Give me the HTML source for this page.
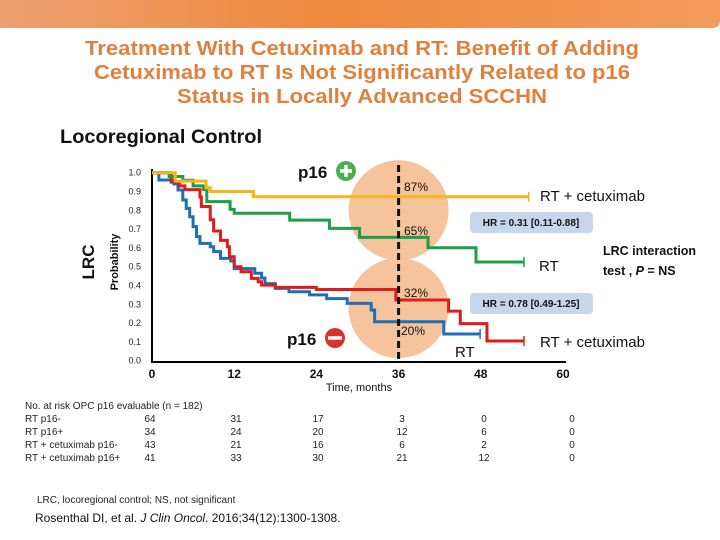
<!DOCTYPE html>
<html><head><meta charset="utf-8"><style>
html,body{margin:0;padding:0;background:#fff}
svg{display:block;font-family:"Liberation Sans",sans-serif}
</style></head><body>
<svg id="chart" width="720" height="540" viewBox="0 0 720 540">
<defs><linearGradient id="bg" x1="0" x2="1"><stop offset="0" stop-color="#eda070"/><stop offset="0.45" stop-color="#ef8a3e"/><stop offset="1" stop-color="#f39a5c"/></linearGradient></defs>
<path d="M0 0H720V20Q720 28 712 28H0Z" fill="url(#bg)"/>
<g fill="#e0803c" font-weight="bold" font-size="20" text-anchor="middle">
<text x="362" y="55" textLength="554" lengthAdjust="spacingAndGlyphs">Treatment With Cetuximab and RT: Benefit of Adding</text>
<text x="362" y="79" textLength="536" lengthAdjust="spacingAndGlyphs">Cetuximab to RT Is Not Significantly Related to p16</text>
<text x="362" y="103" textLength="370" lengthAdjust="spacingAndGlyphs">Status in Locally Advanced SCCHN</text>
</g>
<text x="60" y="143" font-size="19" font-weight="bold" fill="#111" textLength="202" lengthAdjust="spacingAndGlyphs">Locoregional Control</text>
<g id="plot"></g>
<g id="risk" font-size="10" fill="#222"></g>
<text x="37" y="503" font-size="10" fill="#222">LRC, locoregional control; NS, not significant</text>
<text x="35" y="522" font-size="12" fill="#111">Rosenthal DI, et al. <tspan font-style="italic">J Clin Oncol</tspan>. 2016;34(12):1300-1308.</text>
</svg>
<script>
const xTicks=[0,12,24,36,48,60];
const yTicks=[0,0.1,0.2,0.3,0.4,0.5,0.6,0.7,0.8,0.9,1.0];
const yellowT=[0,3.4,7.9,8.5,14.8,55];
const yellowV=[1.0,0.955,0.92,0.9,0.872,0.872];
const greenT=[0,2.5,4.5,6,7.5,8,11.4,12,20.1,25.9,30.3,40.3,47.3,54.3];
const greenV=[1.0,0.98,0.96,0.93,0.91,0.846,0.805,0.784,0.748,0.704,0.656,0.601,0.525,0.525];
const redT=[0,2.8,4,4.8,7,7.2,8.5,9,10,11,11.3,12,13,14.5,15.5,16,18,24,35.6,43.3,45,48.9,54.3];
const redV=[1.0,0.95,0.93,0.91,0.87,0.82,0.75,0.69,0.64,0.606,0.553,0.5,0.473,0.438,0.42,0.402,0.39,0.379,0.323,0.264,0.197,0.105,0.105];
const blueT=[0,1,3.2,3.8,4.5,5,5.5,6,6.5,7,8.5,9,10,11.5,12,15,16,16.5,18,20,23,25.5,28.5,32,32.5,42.6,47.9];
const blueV=[1.0,0.961,0.94,0.908,0.855,0.81,0.766,0.713,0.66,0.624,0.606,0.58,0.544,0.53,0.49,0.465,0.44,0.41,0.385,0.367,0.35,0.33,0.305,0.27,0.207,0.142,0.142];
const riskRows=["RT p16-","RT p16+","RT + cetuximab p16-","RT + cetuximab p16+"];
const riskVals=[[64,31,17,3,0,0],[34,24,20,12,6,0],[43,21,16,6,2,0],[41,33,30,21,12,0]];
const NS="http://www.w3.org/2000/svg";
const X=t=>152+t*6.85, Y=v=>360.7-v*188;
const plot=document.getElementById('plot');
function el(tag,attrs,parent,text){const e=document.createElementNS(NS,tag);for(const k in attrs)e.setAttribute(k,attrs[k]);if(text!==undefined)e.textContent=text;(parent||plot).appendChild(e);return e;}
// circles
let c1=el('circle',{cx:X(36),cy:Y(0.8),r:50,fill:'#f5c39c'});


let c2=el('circle',{cx:X(36),cy:Y(0.28),r:50,fill:'#f5c39c'});


// axes
let ax=el('path',{d:`M152 ${Y(1.02)}V362H566`,stroke:'#000','stroke-width':2,fill:'none'});


yTicks.forEach(v=>{let t=el('text',{x:141,y:Y(v)+3,'font-size':9,'text-anchor':'end',fill:'#222'},plot,v.toFixed(1));

});
xTicks.forEach(v=>{let t=el('text',{x:X(v),y:378,'font-size':12,'font-weight':'bold','text-anchor':'middle',fill:'#111'},plot,v);

});
let xt=el('text',{x:359,y:391,'font-size':11,'text-anchor':'middle',fill:'#111'},plot,'Time, months');


let yt=el('text',{x:0,y:0,'font-size':11,'font-weight':'bold','text-anchor':'middle',fill:'#111',transform:'translate(118 262) rotate(-90)'},plot,'Probability');


let lrc=el('text',{x:0,y:0,'font-size':17,'font-weight':'bold','text-anchor':'middle',fill:'#111',transform:'translate(94 262) rotate(-90)'},plot,'LRC');


function step(T,V){let d=`M${X(T[0])} ${Y(V[0])}`;for(let i=1;i<T.length;i++){d+=`H${X(T[i])}V${Y(V[i])}`;}return d;}
[[blueT,blueV,'#1f6fb5','curve-rt-p16-negative'],[redT,redV,'#e01b1b','curve-rt-cetuximab-p16-negative'],[greenT,greenV,'#1e9e4a','curve-rt-p16-positive'],[yellowT,yellowV,'#f5b618','curve-rt-cetuximab-p16-positive']].forEach(s=>{
let p=el('path',{d:step(s[0],s[1]),stroke:s[2],'stroke-width':3,fill:'none'});


let n=s[0].length-1;let e=el('path',{d:`M${X(s[0][n])} ${Y(s[1][n])-5}v10`,stroke:s[2],'stroke-width':1.5});

});
let dl=el('line',{x1:X(36),y1:165,x2:X(36),y2:363,stroke:'#111','stroke-width':3,'stroke-dasharray':'7,4'});


[['87%',404,191],['65%',404,235],['32%',404,297],['20%',401,335]].forEach(a=>{let t=el('text',{x:a[1],y:a[2],'font-size':12,fill:'#111'},plot,a[0]);

});
// p16 labels
let g1=el('text',{x:298,y:178,'font-size':17,'font-weight':'bold',fill:'#111'},plot,'p16');


let pc=el('circle',{cx:346,cy:171,r:10,fill:'#4cae4c'});


el('path',{d:'M340 171h12M346 165v12',stroke:'#fff','stroke-width':3.5});
let g2=el('text',{x:287,y:345,'font-size':17,'font-weight':'bold',fill:'#111'},plot,'p16');


let mc=el('circle',{cx:335,cy:338,r:10,fill:'#d9342b'});


el('path',{d:'M328 338h14',stroke:'#fff','stroke-width':3.5});
// HR boxes
[[212,'HR = 0.31 [0.11-0.88]','hr-box-p16-positive'],[293,'HR = 0.78 [0.49-1.25]','hr-box-p16-negative']].forEach(b=>{
let r=el('rect',{x:470,y:b[0],width:123,height:21,rx:4,fill:'#c6d6ec'});


el('text',{x:531,y:b[0]+14,'font-size':10,'font-weight':'bold','text-anchor':'middle',fill:'#111'},plot,b[1]);});
[['RT + cetuximab',540,201,15],['RT',539,271,15],['RT + cetuximab',540,347,15],['RT',455,357,15]].forEach(a=>{let t=el('text',{x:a[1],y:a[2],'font-size':a[3],fill:'#111'},plot,a[0]);

});
let li=el('text',{x:603,y:255,'font-size':12.5,'font-weight':'bold',fill:'#111'},plot,'LRC interaction');


let l2=el('text',{x:603,y:275,'font-size':12.5,'font-weight':'bold',fill:'#111'},plot);l2.innerHTML='test , <tspan font-style="italic">P</tspan> = NS';
// risk table
const risk=document.getElementById('risk');
el('text',{x:25,y:409},risk,'No. at risk OPC p16 evaluable (n = 182)');
const colX=[150,236,318,402,484,572];
riskRows.forEach((r,i)=>{let y=422+i*13;let t=el('text',{x:25,y:y},risk,r);


riskVals[i].forEach((v,j)=>{let n=el('text',{x:colX[j],y:y,'text-anchor':'middle'},risk,v);

});});
</script>
</body></html>
